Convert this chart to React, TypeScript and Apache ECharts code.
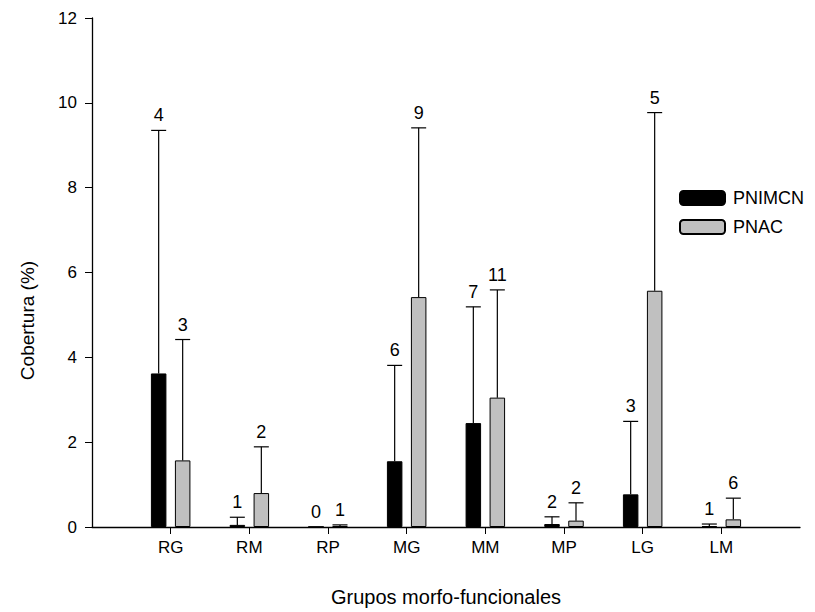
import React, { useEffect, useRef } from "react";
import * as echarts from "echarts";

const categories = ["RG", "RM", "RP", "MG", "MM", "MP", "LG", "LM"];
const pnimcnMean = [3.62, 0.05, 0, 1.55, 2.45, 0.07, 0.77, 0.02];
const pnimcnSD = [5.73, 0.18, 0, 2.26, 2.74, 0.17, 1.72, 0.05];
const pnimcnN = [4, 1, 0, 6, 7, 2, 3, 1];
const pnacMean = [1.57, 0.8, 0.02, 5.42, 3.05, 0.15, 5.57, 0.18];
const pnacSD = [2.85, 1.09, 0.03, 3.99, 2.54, 0.42, 4.2, 0.5];
const pnacN = [3, 2, 1, 9, 11, 2, 5, 6];
const yTicks = { min: 0, max: 12, interval: 2 };

const FONT = "'Liberation Sans', Arial, sans-serif";
const BAR_W = 15.5;
const BAR_GAP_PX = 8.5;
const CAP_W = 15;

export default function App() {
  const ref = useRef<HTMLDivElement>(null);
  useEffect(() => {
    if (!ref.current) return;
    const chart = echarts.init(ref.current, null, { renderer: "svg" });
    const xData = ["", ...categories, ""];
    const pad = (arr: number[]) => ["-", ...arr, "-"];

    const errData: any[] = [];
    categories.forEach((_, i) => {
      errData.push([i + 1, pnimcnMean[i], pnimcnMean[i] + pnimcnSD[i], pnimcnN[i], -1]);
      errData.push([i + 1, pnacMean[i], pnacMean[i] + pnacSD[i], pnacN[i], 1]);
    });

    const option: any = {
      animation: false,
      backgroundColor: "#fff",
      textStyle: { fontFamily: FONT, color: "#000" },
      grid: { left: 92, right: 15, top: 18, bottom: 85 },
      legend: {
        orient: "vertical",
        left: 679,
        top: 189,
        padding: 0,
        itemWidth: 45,
        itemHeight: 14,
        itemGap: 11,
        data: ["PNIMCN", "PNAC"],
        textStyle: { fontFamily: FONT, fontSize: 18, color: "#000", padding: [0, 0, 0, 3] },
        selectedMode: false,
      },
      xAxis: {
        type: "category",
        data: xData,
        boundaryGap: false,
        name: "Grupos morfo-funcionales",
        nameLocation: "middle",
        nameGap: 60,
        nameTextStyle: { fontFamily: FONT, fontSize: 20, color: "#000" },
        axisLine: { lineStyle: { color: "#000", width: 1.3 } },
        axisTick: {
          length: 7,
          interval: (i: number) => i > 0 && i < xData.length - 1,
          lineStyle: { color: "#000" },
        },
        axisLabel: {
          interval: 0,
          margin: 12,
          fontFamily: FONT,
          fontSize: 17,
          color: "#000",
        },
        splitLine: { show: false },
      },
      yAxis: {
        type: "value",
        min: yTicks.min,
        max: yTicks.max,
        interval: yTicks.interval,
        name: "Cobertura (%)",
        nameLocation: "middle",
        nameRotate: 90,
        nameGap: 55,
        nameTextStyle: { fontFamily: FONT, fontSize: 19, color: "#000", padding: [0, 96, 0, 0] },
        axisLine: { show: true, lineStyle: { color: "#000", width: 1.3 } },
        axisTick: { show: true, length: 7, lineStyle: { color: "#000" } },
        axisLabel: { margin: 15, fontFamily: FONT, fontSize: 17, color: "#000" },
        splitLine: { show: false },
      },
      series: [
        {
          name: "PNIMCN",
          type: "bar",
          data: pad(pnimcnMean),
          barWidth: BAR_W,
          barGap: `${(BAR_GAP_PX / BAR_W) * 100}%`,
          itemStyle: { color: "#000", borderColor: "#000", borderWidth: 1 },
        },
        {
          name: "PNAC",
          type: "bar",
          data: pad(pnacMean),
          barWidth: BAR_W,
          itemStyle: { color: "#c0c0c0", borderColor: "#000", borderWidth: 1 },
        },
        {
          name: "err",
          type: "custom",
          z: 5,
          data: errData,
          encode: { x: 0, y: [1, 2] },
          renderItem: (params: any, api: any) => {
            const ci = api.value(0);
            const mean = api.value(1);
            const top = api.value(2);
            const n = api.value(3);
            const side = api.value(4);
            const off = (side * (BAR_W + BAR_GAP_PX)) / 2;
            const base = api.coord([ci, mean]);
            const tp = api.coord([ci, top]);
            const x = base[0] + off;
            const st = { stroke: "#000", lineWidth: 1.2 };
            return {
              type: "group",
              children: [
                { type: "line", shape: { x1: x, y1: base[1], x2: x, y2: tp[1] }, style: st },
                {
                  type: "line",
                  shape: { x1: x - CAP_W / 2, y1: tp[1], x2: x + CAP_W / 2, y2: tp[1] },
                  style: st,
                },
                {
                  type: "text",
                  x: x,
                  y: tp[1] - 6,
                  style: {
                    text: String(n),
                    fontFamily: FONT,
                    fontSize: 18,
                    fill: "#000",
                    align: "center",
                    verticalAlign: "bottom",
                  },
                },
              ],
            };
          },
        },
      ],
    };
    chart.setOption(option);
    return () => chart.dispose();
  }, []);
  return (
    <div
      ref={ref}
      style={{ position: "fixed", left: 0, top: 0, width: 815, height: 612 }}
    />
  );
}
